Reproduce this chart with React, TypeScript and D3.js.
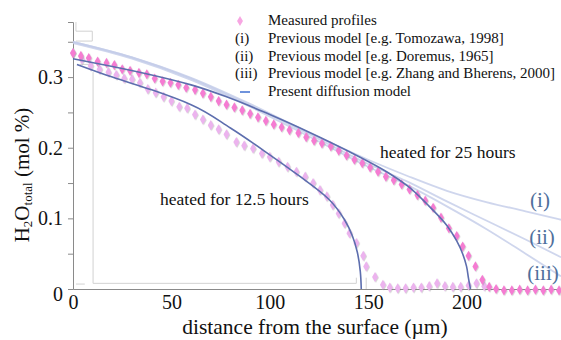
import React, { useRef, useEffect } from 'react';
import * as d3 from 'd3';

// measured profiles (distance µm, H2O total mol %)
const dist25 = [0, 4, 8, 12.5, 17, 21, 25, 29, 33.5, 37.5, 41.5, 45.5, 49.5, 53.5, 57.5, 62, 66, 70, 74, 78, 82, 86, 90, 94, 98, 102, 106, 110, 114.5, 118.5, 122.5, 126.5, 131, 135, 139, 143, 147, 151, 155, 159, 163, 167, 171, 175, 179, 183, 187, 191, 195, 198, 201, 204.5, 208, 211.5, 215, 219, 223, 227, 231, 235, 239, 243, 247];
const h2o25 = [0.334, 0.330, 0.327, 0.322, 0.320, 0.317, 0.311, 0.309, 0.306, 0.304, 0.298, 0.294, 0.292, 0.289, 0.285, 0.282, 0.277, 0.272, 0.266, 0.261, 0.257, 0.253, 0.248, 0.243, 0.238, 0.233, 0.229, 0.225, 0.221, 0.215, 0.210, 0.206, 0.202, 0.196, 0.189, 0.183, 0.178, 0.172, 0.166, 0.159, 0.154, 0.148, 0.141, 0.133, 0.125, 0.115, 0.101, 0.086, 0.075, 0.060, 0.047, 0.032, 0.013, 0.003, 0.000, -0.002, -0.002, -0.001, -0.002, -0.001, -0.002, -0.001, -0.002];

const dist12 = [0, 4.5, 9, 13.5, 18, 22, 26, 30, 34, 38, 42, 46, 50, 54, 58, 62, 66, 70, 74, 78, 83, 87, 91.5, 96, 100, 104.5, 109, 113.5, 118, 122, 125.5, 129, 132, 135, 138, 140.5, 144, 147.5, 149, 153.5, 157.5, 161, 165, 169, 173, 177, 181, 185, 189, 193, 197, 201, 205, 209];
const h2o12 = [0.334, 0.325, 0.316, 0.311, 0.307, 0.303, 0.298, 0.297, 0.292, 0.283, 0.278, 0.272, 0.266, 0.258, 0.256, 0.247, 0.240, 0.232, 0.226, 0.219, 0.208, 0.203, 0.199, 0.192, 0.187, 0.180, 0.173, 0.166, 0.159, 0.150, 0.140, 0.131, 0.119, 0.107, 0.093, 0.079, 0.065, 0.047, 0.032, 0.017, 0.006, 0.002, 0.001, 0.001, 0.002, 0.002, 0.004, 0.008, 0.004, 0.003, 0.003, 0.005, 0.008, 0.004];

// present diffusion model
const modelDist25 = [0, 20, 40, 60, 80, 100, 120, 140, 160, 170, 180, 190, 195, 198, 200, 201, 202];
const modelH2o25 = [0.326, 0.315, 0.303, 0.289, 0.270, 0.247, 0.222, 0.195, 0.165, 0.146, 0.120, 0.090, 0.068, 0.050, 0.032, 0.015, 0];
const modelDist12 = [2, 20, 40, 60, 80, 100, 115, 130, 138, 142, 144.5, 146, 146.5];
const modelH2o12 = [0.318, 0.300, 0.282, 0.261, 0.228, 0.190, 0.160, 0.127, 0.098, 0.075, 0.052, 0.025, 0];

// previous models
const prevDist = [0, 30, 60, 90, 120, 150, 170, 190, 210, 230, 248];
const prevI = [0.350, 0.328, 0.299, 0.262, 0.221, 0.183, 0.160, 0.139, 0.123, 0.110, 0.098];
const prevII = [0.350, 0.328, 0.298, 0.260, 0.219, 0.177, 0.152, 0.124, 0.097, 0.070, 0.045];
const prevIII = [0.348, 0.326, 0.296, 0.258, 0.216, 0.173, 0.147, 0.117, 0.085, 0.050, 0.018];
const prevLabels = ['(i)', '(ii)', '(iii)'];

const legendItems = [
  'Measured profiles',
  'Previous model [e.g. Tomozawa, 1998]',
  'Previous model [e.g. Doremus, 1965]',
  'Previous model [e.g. Zhang and Bherens, 2000]',
  'Present diffusion model',
];
const legendKeys = ['', '(i)', '(ii)', '(iii)', ''];

const xTicks = [0, 50, 100, 150, 200];
const yTicks = [0, 0.05, 0.1, 0.15, 0.2, 0.25, 0.3, 0.35];

// stray frame lines left in the original figure (data units)
const frameLines: [number, number, number, number][] = [
  [10.2, 0.008, 144, 0.008],
  [10.2, 0.008, 10.2, 0.307],
  [1.5, 0.007, 6, 0.007],
  [1.5, 0.378, 1.5, 0.365],
  [1.5, 0.365, 9.8, 0.365],
  [9.8, 0.365, 9.8, 0.351],
  [1.5, 0.351, 9.8, 0.351],
  [3.5, 0.318, 10.2, 0.318],
  [144, 0.008, 144, 0.016],
  [149, 0.0, 149, 0.016],
];

const W = 561;
const H = 340;
const serif = "'Liberation Serif', 'Times New Roman', Tinos, 'DejaVu Serif', serif";

export default function App() {
  const svgRef = useRef<SVGSVGElement>(null);

  useEffect(() => {
    const svg = d3.select(svgRef.current);
    svg.selectAll('*').remove();

    const x = d3.scaleLinear().domain([0, 248]).range([73, 561]);
    const y = d3.scaleLinear().domain([0, 0.378]).range([289, 22]);

    const defs = svg.append('defs');
    const f = defs.append('filter').attr('id', 'sh').attr('x', '-50%').attr('y', '-50%').attr('width', '200%').attr('height', '200%');
    f.append('feDropShadow').attr('dx', 0.7).attr('dy', 0.7).attr('stdDeviation', 0.6)
      .attr('flood-color', '#777').attr('flood-opacity', 0.4);

    // frame remnants
    svg.append('g').selectAll('line').data(frameLines).enter().append('line')
      .attr('x1', d => x(d[0])).attr('y1', d => y(d[1]))
      .attr('x2', d => x(d[2])).attr('y2', d => y(d[3]))
      .attr('stroke', '#d2d2d2').attr('stroke-width', 1);

    // axes
    const yAxis = d3.axisLeft(y).tickValues(yTicks).tickSize(5).tickPadding(5)
      .tickFormat(v => (Math.round(+v * 100) % 10 === 0 ? (+v === 0 ? '0' : d3.format('.1f')(+v)) : ''));
    const gy = svg.append('g').attr('transform', `translate(${x(0)},0)`).call(yAxis);
    gy.attr('font-family', null);
    gy.select('.domain').attr('stroke', '#8a8a8a');
    gy.selectAll('.tick line').attr('stroke', '#8a8a8a');
    gy.selectAll('.tick text').style('font-family', serif).attr('font-size', 20).attr('fill', '#111');
    gy.selectAll('.tick').filter(d => +d === 0).select('text').attr('dy', '0.55em');

    const xAxis = d3.axisBottom(x).tickValues(xTicks).tickSize(0).tickPadding(6).tickFormat(d3.format('d'));
    const gx = svg.append('g').attr('transform', `translate(0,${y(0)})`).call(xAxis);
    gx.attr('font-family', null);
    gx.select('.domain').attr('stroke', '#8a8a8a');
    gx.selectAll('.tick text').style('font-family', serif).attr('font-size', 20).attr('fill', '#111');

    const line = d3.line<[number, number]>().x(d => x(d[0])).y(d => y(d[1])).curve(d3.curveMonotoneX);

    // previous models
    [prevI, prevII, prevIII].forEach(vals => {
      svg.append('path')
        .attr('d', line(prevDist.map((d, i) => [d, vals[i]] as [number, number])))
        .attr('fill', 'none').attr('stroke', '#c3cce8').attr('stroke-width', 1.8).attr('opacity', 0.8);
    });

    // measured points
    const diamond = d3.symbol().type(d3.symbolDiamond).size(30);
    const pts = (ds: number[], vs: number[], color: string) => {
      svg.append('g').attr('filter', 'url(#sh)').selectAll('path')
        .data(ds.map((d, i) => [d, vs[i]])).enter().append('path')
        .attr('d', diamond)
        .attr('transform', d => `translate(${x(d[0])},${y(d[1])})`)
        .attr('fill', color);
    };
    pts(dist12, h2o12, '#ecb3ee');
    pts(dist25, h2o25, '#f57bd2');

    // present model
    const vline = d3.line<[number, number]>().x(d => x(d[0])).y(d => y(d[1])).curve(d3.curveMonotoneY);
    [[modelDist25, modelH2o25], [modelDist12, modelH2o12]].forEach(([ds, vs]) => {
      svg.append('path')
        .attr('d', vline(ds.map((d, i) => [d, vs[i]] as [number, number])))
        .attr('fill', 'none').attr('stroke', '#5d6eae').attr('stroke-width', 1.6);
    });

    const txt = (sel: d3.Selection<SVGTextElement, unknown, null, undefined>, size: number, fill = '#111') =>
      sel.style('font-family', serif).attr('font-size', size).attr('fill', fill);

    // roman labels
    prevLabels.forEach((t, i) => {
      txt(svg.append('text'), 21, '#4f6f9c')
        .attr('x', [540, 542, 543][i]).attr('y', [207, 244, 280][i])
        .attr('text-anchor', 'middle').text(t);
    });

    // annotations
    txt(svg.append('text'), 17.5).attr('x', 380).attr('y', 158).text('heated for 25 hours');
    txt(svg.append('text'), 17.5).attr('x', 160).attr('y', 205).text('heated for 12.5 hours');

    // legend
    legendItems.forEach((t, i) => {
      const cy = 20 + i * 17.8;
      txt(svg.append('text'), 15).attr('x', 268).attr('y', cy + 5).text(t);
      if (legendKeys[i]) txt(svg.append('text'), 15).attr('x', 235).attr('y', cy + 5).text(legendKeys[i]);
    });
    svg.append('path').attr('d', diamond).attr('transform', 'translate(240,21)').attr('fill', '#f7a6e2');
    svg.append('line').attr('x1', 240).attr('x2', 250).attr('y1', 92).attr('y2', 92).attr('stroke', '#3f6fd0').attr('stroke-width', 1.5);

    // axis titles
    txt(svg.append('text'), 21.5).attr('x', 315).attr('y', 334).attr('text-anchor', 'middle')
      .text('distance from the surface (µm)');

    const yt = txt(svg.append('text'), 21).attr('transform', 'translate(29,175) rotate(-90)').attr('text-anchor', 'middle');
    yt.append('tspan').text('H');
    yt.append('tspan').attr('font-size', 13).attr('dy', 3).text('2');
    yt.append('tspan').attr('dy', -3).text('O');
    yt.append('tspan').attr('font-size', 13).attr('dy', 3).text('total');
    yt.append('tspan').attr('dy', -3).text(' (mol %)');
  }, []);

  return (
    <svg ref={svgRef} width={W} height={H} style={{ position: 'absolute', left: 0, top: 0, background: '#fff' }} />
  );
}
